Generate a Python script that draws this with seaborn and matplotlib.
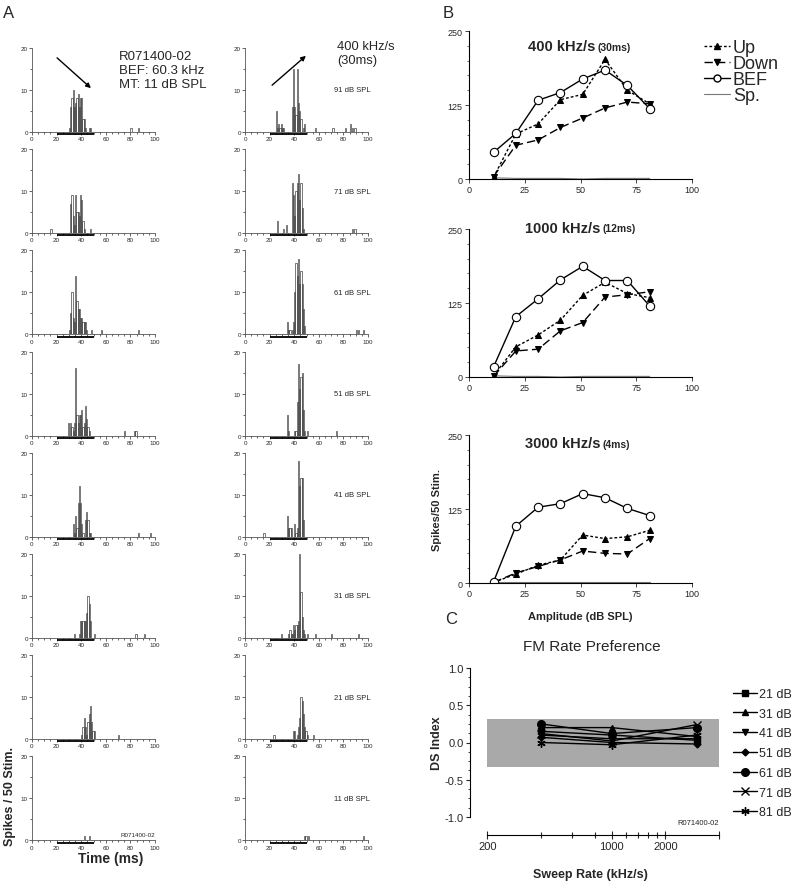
import matplotlib
matplotlib.use("Agg")
import numpy as np
import pandas as pd
import matplotlib.pyplot as plt
import seaborn as sns
from matplotlib.ticker import MultipleLocator, FixedLocator, NullFormatter
from matplotlib.lines import Line2D

# ---------------- Panel A : PSTHs (1-ms bins, time in ms, spikes/50 stim) ----
levels_a = ["91 dB SPL", "71 dB SPL", "61 dB SPL", "51 dB SPL",
            "41 dB SPL", "31 dB SPL", "21 dB SPL", "11 dB SPL"]

# Downward sweep (left column)
dn91_t = [30, 31, 32, 33, 34, 35, 36, 37, 38, 39, 40, 41, 42, 43, 46, 47, 80, 86]
dn91_n = [1, 6, 8, 10, 6, 7, 8, 9, 6, 8, 8, 3, 3, 1, 1, 1, 1, 1]
dn71_t = [15, 31, 32, 33, 34, 35, 36, 37, 38, 39, 40, 41, 42, 47]
dn71_n = [1, 7, 9, 4, 2, 9, 5, 5, 4, 9, 8, 3, 1, 1]
dn61_t = [30, 31, 32, 33, 34, 35, 36, 37, 38, 39, 40, 41, 42, 43, 44, 48, 56, 86]
dn61_n = [1, 5, 10, 4, 3, 14, 8, 6, 6, 4, 4, 3, 3, 3, 1, 1, 1, 1]
dn51_t = [29, 31, 32, 33, 34, 35, 36, 37, 38, 39, 40, 41, 42, 43, 44, 45, 46, 75, 83, 84]
dn51_n = [3, 3, 2, 1, 3, 16, 5, 3, 5, 5, 6, 2, 3, 7, 4, 2, 1, 1, 1, 1]
dn41_t = [33, 34, 35, 36, 37, 38, 39, 40, 41, 43, 44, 45, 46, 47, 86, 96]
dn41_n = [3, 1, 5, 2, 8, 12, 8, 3, 1, 4, 6, 4, 1, 1, 1, 1]
dn31_t = [34, 38, 39, 40, 41, 42, 43, 44, 45, 46, 47, 50, 84, 91]
dn31_n = [1, 1, 4, 4, 4, 4, 4, 6, 10, 8, 4, 1, 1, 1]
dn21_t = [40, 41, 42, 43, 44, 45, 46, 47, 48, 49, 50, 70]
dn21_n = [1, 3, 5, 3, 1, 4, 6, 8, 4, 2, 2, 1]
dn11_t = [42, 46]
dn11_n = [1, 1]

# Upward sweep (right column)
up91_t = [25, 26, 27, 28, 29, 30, 31, 38, 39, 40, 41, 42, 43, 44, 45, 47, 48, 57, 71, 81, 85, 87, 89]
up91_n = [5, 1, 2, 1, 2, 1, 1, 6, 15, 6, 4, 15, 7, 5, 3, 1, 2, 1, 1, 1, 2, 1, 1]
up71_t = [26, 31, 33, 38, 39, 40, 41, 42, 43, 44, 45, 46, 47, 87, 89]
up71_n = [3, 1, 2, 12, 9, 4, 10, 12, 14, 8, 12, 6, 1, 1, 1]
up61_t = [34, 35, 36, 38, 39, 40, 41, 42, 43, 44, 45, 46, 47, 48, 90, 92, 96]
up61_n = [3, 1, 1, 1, 3, 10, 17, 14, 18, 12, 15, 12, 6, 2, 1, 1, 1]
up51_t = [34, 35, 40, 41, 42, 43, 44, 45, 46, 47, 48, 50, 74]
up51_n = [5, 1, 1, 1, 8, 17, 11, 14, 15, 6, 1, 1, 1]
up41_t = [15, 34, 35, 36, 37, 40, 41, 42, 43, 44, 45, 46, 47]
up41_n = [1, 5, 2, 2, 2, 3, 1, 2, 18, 12, 14, 14, 4]
up31_t = [29, 35, 36, 37, 38, 39, 40, 41, 42, 43, 44, 45, 46, 47, 48, 50, 57, 70, 92]
up31_n = [1, 1, 2, 1, 1, 3, 2, 3, 3, 4, 20, 11, 5, 2, 1, 1, 1, 1, 1]
up21_t = [23, 39, 40, 42, 43, 44, 45, 46, 47, 48, 49, 50, 55]
up21_n = [1, 2, 2, 1, 3, 5, 10, 9, 6, 3, 2, 1, 1]
up11_t = [48, 49, 51, 96]
up11_n = [1, 1, 1, 1]

stim_window = [20, 50]   # ms, stimulus duration bar

# ---------------- Panel B : rate-level functions --------------------------
amp = [11, 21, 31, 41, 51, 61, 71, 81]
b_titles = ["400 kHz/s", "1000 kHz/s", "3000 kHz/s"]
b_sub = ["(30ms)", "(12ms)", "(4ms)"]
up_400 = [3, 76, 93, 134, 143, 202, 150, 127]
dn_400 = [4, 57, 66, 87, 103, 120, 130, 127]
bef_400 = [45, 77, 133, 146, 169, 184, 158, 119]
sp_400 = [2, 1, 1, 1, 0, 1, 1, 1]
up_1000 = [2, 51, 71, 96, 138, 160, 141, 134]
dn_1000 = [1, 44, 47, 78, 92, 135, 139, 144]
bef_1000 = [17, 102, 132, 164, 187, 163, 163, 120]
sp_1000 = [2, 1, 1, 0, 1, 1, 1, 1]
up_3000 = [1, 15, 30, 39, 81, 75, 78, 89]
dn_3000 = [1, 17, 28, 39, 54, 50, 49, 75]
bef_3000 = [2, 96, 128, 134, 151, 144, 126, 114]
sp_3000 = [1, 1, 1, 1, 1, 1, 1, 1]

# ---------------- Panel C : DS index vs sweep rate --------------------------
sweep_rate = [400, 1000, 3000]
c_labels = ["21 dB", "31 dB", "41 dB", "51 dB", "61 dB", "71 dB", "81 dB"]
ds_21 = [0.15, 0.10, 0.03]
ds_31 = [0.20, 0.20, 0.08]
ds_41 = [0.10, 0.05, 0.05]
ds_51 = [0.07, 0.00, -0.02]
ds_61 = [0.25, 0.12, 0.20]
ds_71 = [0.12, 0.02, 0.24]
ds_81 = [0.00, -0.03, 0.10]
ds_band = [-0.33, 0.32]
band_rates = [200, 4000]

# ---------------------------------------------------------------------------
sns.set_theme(style="ticks")
plt.rcParams["font.family"] = ["Liberation Sans", "DejaVu Sans"]
plt.rcParams["axes.edgecolor"] = "black"
plt.rcParams["axes.linewidth"] = 0.8

W, H = 800, 887
fig = plt.figure(figsize=(W / 100, H / 100), dpi=100)


def box(l, t, w, h):
    return [l / W, 1 - (t + h) / H, w / W, h / H]


def fx(x):
    return x / W


def fy(y):
    return 1 - y / H


dn_data = [(dn91_t, dn91_n), (dn71_t, dn71_n), (dn61_t, dn61_n), (dn51_t, dn51_n),
           (dn41_t, dn41_n), (dn31_t, dn31_n), (dn21_t, dn21_n), (dn11_t, dn11_n)]
up_data = [(up91_t, up91_n), (up71_t, up71_n), (up61_t, up61_n), (up51_t, up51_n),
           (up41_t, up41_n), (up31_t, up31_n), (up21_t, up21_n), (up11_t, up11_n)]

col_left = [32, 245]
for col, data in enumerate([dn_data, up_data]):
    for i, (t, n) in enumerate(data):
        ax = fig.add_axes(box(col_left[col], 49 + 101.2 * i, 123, 84))
        sns.histplot(x=t, weights=n, binwidth=1, binrange=(0, 100), element="bars",
                     fill=False, color="#444444", linewidth=0.5, ax=ax)
        ax.set_xlim(0, 100)
        ax.set_ylim(0, 20)
        ax.set_xlabel("")
        ax.set_ylabel("")
        ax.set_xticks([0, 20, 40, 60, 80, 100])
        ax.set_yticks([0, 10, 20])
        ax.xaxis.set_minor_locator(MultipleLocator(5))
        ax.yaxis.set_minor_locator(MultipleLocator(5))
        ax.tick_params(which="major", length=2, width=0.5, labelsize=4.5, pad=1)
        ax.tick_params(which="minor", length=1.2, width=0.5)
        for s in ["top", "right"]:
            ax.spines[s].set_visible(False)
        for s in ["left", "bottom"]:
            ax.spines[s].set_linewidth(0.6)
            ax.spines[s].set_color("#555555")
        ax.plot(stim_window, [-0.5, -0.5], color="black", lw=1.3,
                clip_on=False, solid_capstyle="butt")
        if col == 1:
            ax.text(72, 10, levels_a[i], fontsize=5.5, ha="left", va="center")
        if col == 0 and i == 7:
            ax.text(100, 0.8, "R071400-02", fontsize=4.5, ha="right", va="bottom")

# annotations panel A
fig.text(fx(3), fy(13), "A", fontsize=12, va="center", ha="left")
fig.text(fx(119), fy(71), "R071400-02\nBEF: 60.3 kHz\nMT: 11 dB SPL",
         fontsize=9.5, va="center", ha="left", linespacing=1.25)
fig.text(fx(337), fy(54), "400 kHz/s\n(30ms)", fontsize=9.3, va="center",
         ha="left", linespacing=1.3)
fig.patches.append(matplotlib.patches.FancyArrowPatch(
    (fx(55), fy(57)), (fx(93), fy(91)), transform=fig.transFigure,
    arrowstyle="-|>", mutation_scale=7, color="black", lw=1))
fig.patches.append(matplotlib.patches.FancyArrowPatch(
    (fx(270), fy(88)), (fx(308), fy(55)), transform=fig.transFigure,
    arrowstyle="-|>", mutation_scale=7, color="black", lw=1))
fig.text(fx(10), fy(797), "Spikes / 50 Stim.", rotation=90, fontsize=9,
         fontweight="bold", ha="center", va="center")
fig.text(fx(111), fy(859), "Time (ms)", fontsize=10, fontweight="bold",
         ha="center", va="center")

# ---------------- Panel B ------------------------------------------------
fig.text(fx(443), fy(13), "B", fontsize=12, va="center", ha="left")
b_sets = [(up_400, dn_400, bef_400, sp_400),
          (up_1000, dn_1000, bef_1000, sp_1000),
          (up_3000, dn_3000, bef_3000, sp_3000)]
b_tops = [32, 230, 436]
b_title_y = [0.90, 1.01, 0.945]
b_title_x = [0.565, 0.59, 0.59]
for k, (u, d, b, s) in enumerate(b_sets):
    ax = fig.add_axes(box(469, b_tops[k], 223, 148))
    sns.lineplot(x=amp, y=s, ax=ax, color="#777777", lw=0.8, errorbar=None)
    sns.lineplot(x=amp, y=u, ax=ax, color="black", lw=1.0, errorbar=None,
                 linestyle=(0, (2, 1.5)), marker="^", markersize=5,
                 markeredgecolor="black")
    sns.lineplot(x=amp, y=d, ax=ax, color="black", lw=1.0, errorbar=None,
                 linestyle=(0, (6, 3)), marker="v", markersize=5,
                 markeredgecolor="black")
    sns.lineplot(x=amp, y=b, ax=ax, color="black", lw=1.0, errorbar=None,
                 linestyle="-", marker="o", markersize=6,
                 markerfacecolor="white", markeredgecolor="black",
                 markeredgewidth=0.8)
    ax.set_xlim(0, 100)
    ax.set_ylim(0, 250)
    ax.set_xticks([0, 25, 50, 75, 100])
    ax.set_yticks([0, 125, 250])
    ax.yaxis.set_minor_locator(MultipleLocator(25))
    ax.tick_params(which="major", length=3, width=0.6, labelsize=6.5, pad=1.5)
    ax.tick_params(which="minor", length=1.5, width=0.5)
    ax.set_xlabel("")
    ax.set_ylabel("")
    for sp_ in ["top", "right"]:
        ax.spines[sp_].set_visible(False)
    ax.text(b_title_x[k], b_title_y[k], b_titles[k], transform=ax.transAxes,
            fontsize=10.5, fontweight="bold", ha="right", va="center")
    ax.text(b_title_x[k] + 0.01, b_title_y[k] - 0.005, b_sub[k], transform=ax.transAxes,
            fontsize=7.5, fontweight="bold", ha="left", va="center")

fig.text(fx(437), fy(510), "Spikes/50 Stim.", rotation=90, fontsize=8,
         fontweight="bold", ha="center", va="center")
fig.text(fx(580), fy(617), "Amplitude (dB SPL)", fontsize=8,
         fontweight="bold", ha="center", va="center")

b_handles = [
    Line2D([], [], color="black", lw=1, linestyle=(0, (2, 1.5)), marker="^", markersize=4),
    Line2D([], [], color="black", lw=1, linestyle=(0, (6, 3)), marker="v", markersize=4),
    Line2D([], [], color="black", lw=1, marker="o", markersize=5,
           markerfacecolor="white", markeredgecolor="black"),
    Line2D([], [], color="#777777", lw=0.8),
]
fig.legend(b_handles, ["Up", "Down", "BEF", "Sp."], loc="upper left",
           bbox_to_anchor=(fx(704), fy(40)), frameon=False, fontsize=13,
           handlelength=1.45, handletextpad=0.15, labelspacing=-0.05,
           borderpad=0, borderaxespad=0)

# ---------------- Panel C ------------------------------------------------
fig.text(fx(445), fy(619), "C", fontsize=12, va="center", ha="left")
axc = fig.add_axes(box(470, 669, 249, 149))
axc.set_xscale("log")
axc.fill_between(band_rates, ds_band[0], ds_band[1], color="#a9a9a9",
                 lw=0, zorder=0)
c_series = [ds_21, ds_31, ds_41, ds_51, ds_61, ds_71, ds_81]
c_markers = ["s", "^", "v", "D", "o", "x", (6, 2, 0)]
c_sizes = [5, 5, 5, 3.5, 5.5, 6, 6]
c_handles = []
for vals, mk, ms, lab in zip(c_series, c_markers, c_sizes, c_labels):
    sns.lineplot(x=sweep_rate, y=vals, ax=axc, color="black", lw=1.0,
                 errorbar=None, marker=mk, markersize=ms,
                 markeredgecolor="black", markeredgewidth=1.0)
    c_handles.append(Line2D([], [], color="black", lw=1.0, marker=mk,
                            markersize=ms, markeredgewidth=1.0))
axc.set_xlim(160, 4000)
axc.set_ylim(-1.0, 1.0)
axc.set_xlabel("")
axc.set_ylabel("")
axc.spines["top"].set_visible(False)
axc.spines["right"].set_visible(False)
axc.spines["bottom"].set_position(("outward", 13))
axc.spines["bottom"].set_bounds(200, 4000)
axc.xaxis.set_major_locator(FixedLocator([200, 1000, 2000, 4000]))
axc.set_xticklabels(["200", "1000", "2000", ""])
axc.xaxis.set_minor_locator(FixedLocator([400, 600, 800, 1200, 1400, 1600, 1800]))
axc.xaxis.set_minor_formatter(NullFormatter())
axc.set_yticks([-1.0, -0.5, 0.0, 0.5, 1.0])
axc.set_yticklabels(["-1.0", "-0.5", "0.0", "0.5", "1.0"])
axc.yaxis.set_minor_locator(MultipleLocator(0.125))
axc.tick_params(axis="x", which="major", direction="inout", length=6, width=0.8,
                labelsize=8, pad=1)
axc.tick_params(axis="x", which="minor", direction="inout", length=4, width=0.8)
axc.tick_params(axis="y", which="major", length=3, width=0.8, labelsize=8, pad=1.5)
axc.tick_params(axis="y", which="minor", length=1.5, width=0.6)
axc.text(4000, -1.08, "R071400-02", fontsize=5.5, ha="right", va="center",
         clip_on=False)

fig.text(fx(592), fy(647), "FM Rate Preference", fontsize=11, ha="center",
         va="center")
fig.text(fx(437), fy(743), "DS Index", rotation=90, fontsize=9,
         fontweight="bold", ha="center", va="center")
fig.text(fx(590), fy(875), "Sweep Rate (kHz/s)", fontsize=9,
         fontweight="bold", ha="center", va="center")
fig.legend(c_handles, c_labels, loc="upper left",
           bbox_to_anchor=(fx(733), fy(689)), frameon=False, fontsize=9,
           handlelength=1.9, handletextpad=0.2, labelspacing=0.62,
           borderpad=0, borderaxespad=0)

fig.savefig("out.png", dpi=100, facecolor="white")
